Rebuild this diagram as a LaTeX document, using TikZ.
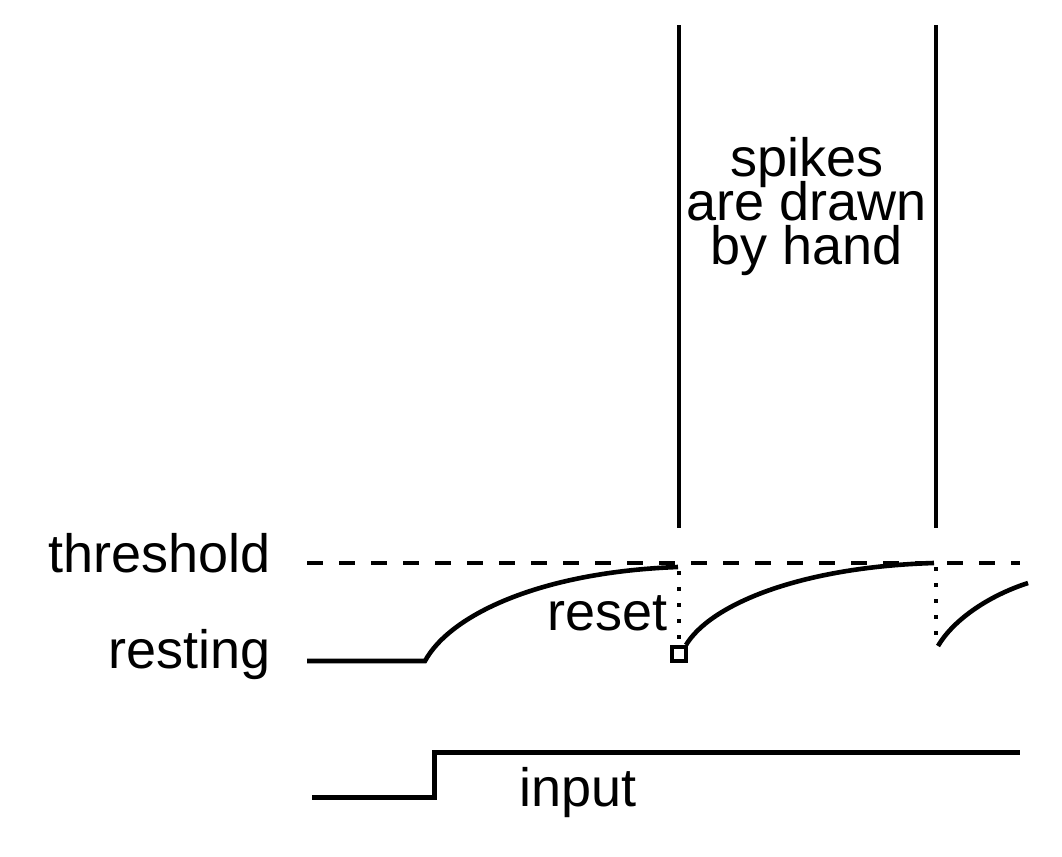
\documentclass[tikz,border=0pt]{standalone}
\usepackage{fontspec}
\setmainfont{Liberation Sans}
\newcommand\mylblfont{\fontsize{27}{22}\selectfont\lineskiplimit=-30pt\relax}
\begin{document}
\begin{tikzpicture}[x=0.5pt,y=-0.5pt,
  lbl/.style={inner sep=0pt,font=\mylblfont},
  trace/.style={line width=2.3pt,line cap=butt,line join=miter},
  thr/.style={line width=2.3pt,dash pattern=on 8pt off 8pt},
  dotln/.style={line width=2.2pt,dash pattern=on 2.2pt off 5.8pt}]
\useasboundingbox (0,0) rectangle (1062,857);
% coordinates
\coordinate (s1top) at (679,25);
\coordinate (s1bot) at (679,528);
\coordinate (s2top) at (936,25);
\coordinate (s2bot) at (936,528);
\coordinate (thrA) at (307,563);
\coordinate (thrB) at (1020,563);
\coordinate (restA) at (307,661);
\coordinate (restB) at (425,661);
\coordinate (peak1) at (678,567);
\coordinate (reset1) at (686,645);
\coordinate (peak2) at (934,563);
\coordinate (reset2) at (938,646);
\coordinate (end3) at (1028,583);
\coordinate (inA) at (312,797);
\coordinate (inB) at (434,797);
\coordinate (inC) at (434,752);
\coordinate (inD) at (1020,752);
% spikes
\draw[trace] (s1top) -- (s1bot);
\draw[trace] (s2top) -- (s2bot);
% threshold
\draw[thr] (thrA) -- (thrB);
% membrane trace
\draw[trace] (restA) -- (restB) .. controls (450,615) and (540,572) .. (peak1);
\draw[trace] (reset1) .. controls (710,605) and (799,567) .. (peak2);
\draw[trace] (reset2) .. controls (952,622) and (985,597) .. (end3);
% reset dotted lines
\draw[dotln] (679,571) -- (679,645);
\draw[dotln] (936,567) -- (936,646);
\node[draw,line width=1.6pt,minimum size=7pt,inner sep=0pt] (sq) at (679,654) {};
% input
\draw[trace,line width=2.5pt] (inA) -- (inB) -- (inC) -- (inD);
% labels
\node[lbl,anchor=base east] (threshold) at (271,572) {threshold};
\node[lbl,anchor=base east] (resting) at (271,668) {resting};
\node[lbl,anchor=base east] (reset) at (668,630) {reset};
\node[lbl,anchor=base] (input) at (578,806) {input};
\node[lbl,anchor=north,align=center] (spikes) at (807,137) {spikes\\are drawn\\by hand};
\end{tikzpicture}
\end{document}
